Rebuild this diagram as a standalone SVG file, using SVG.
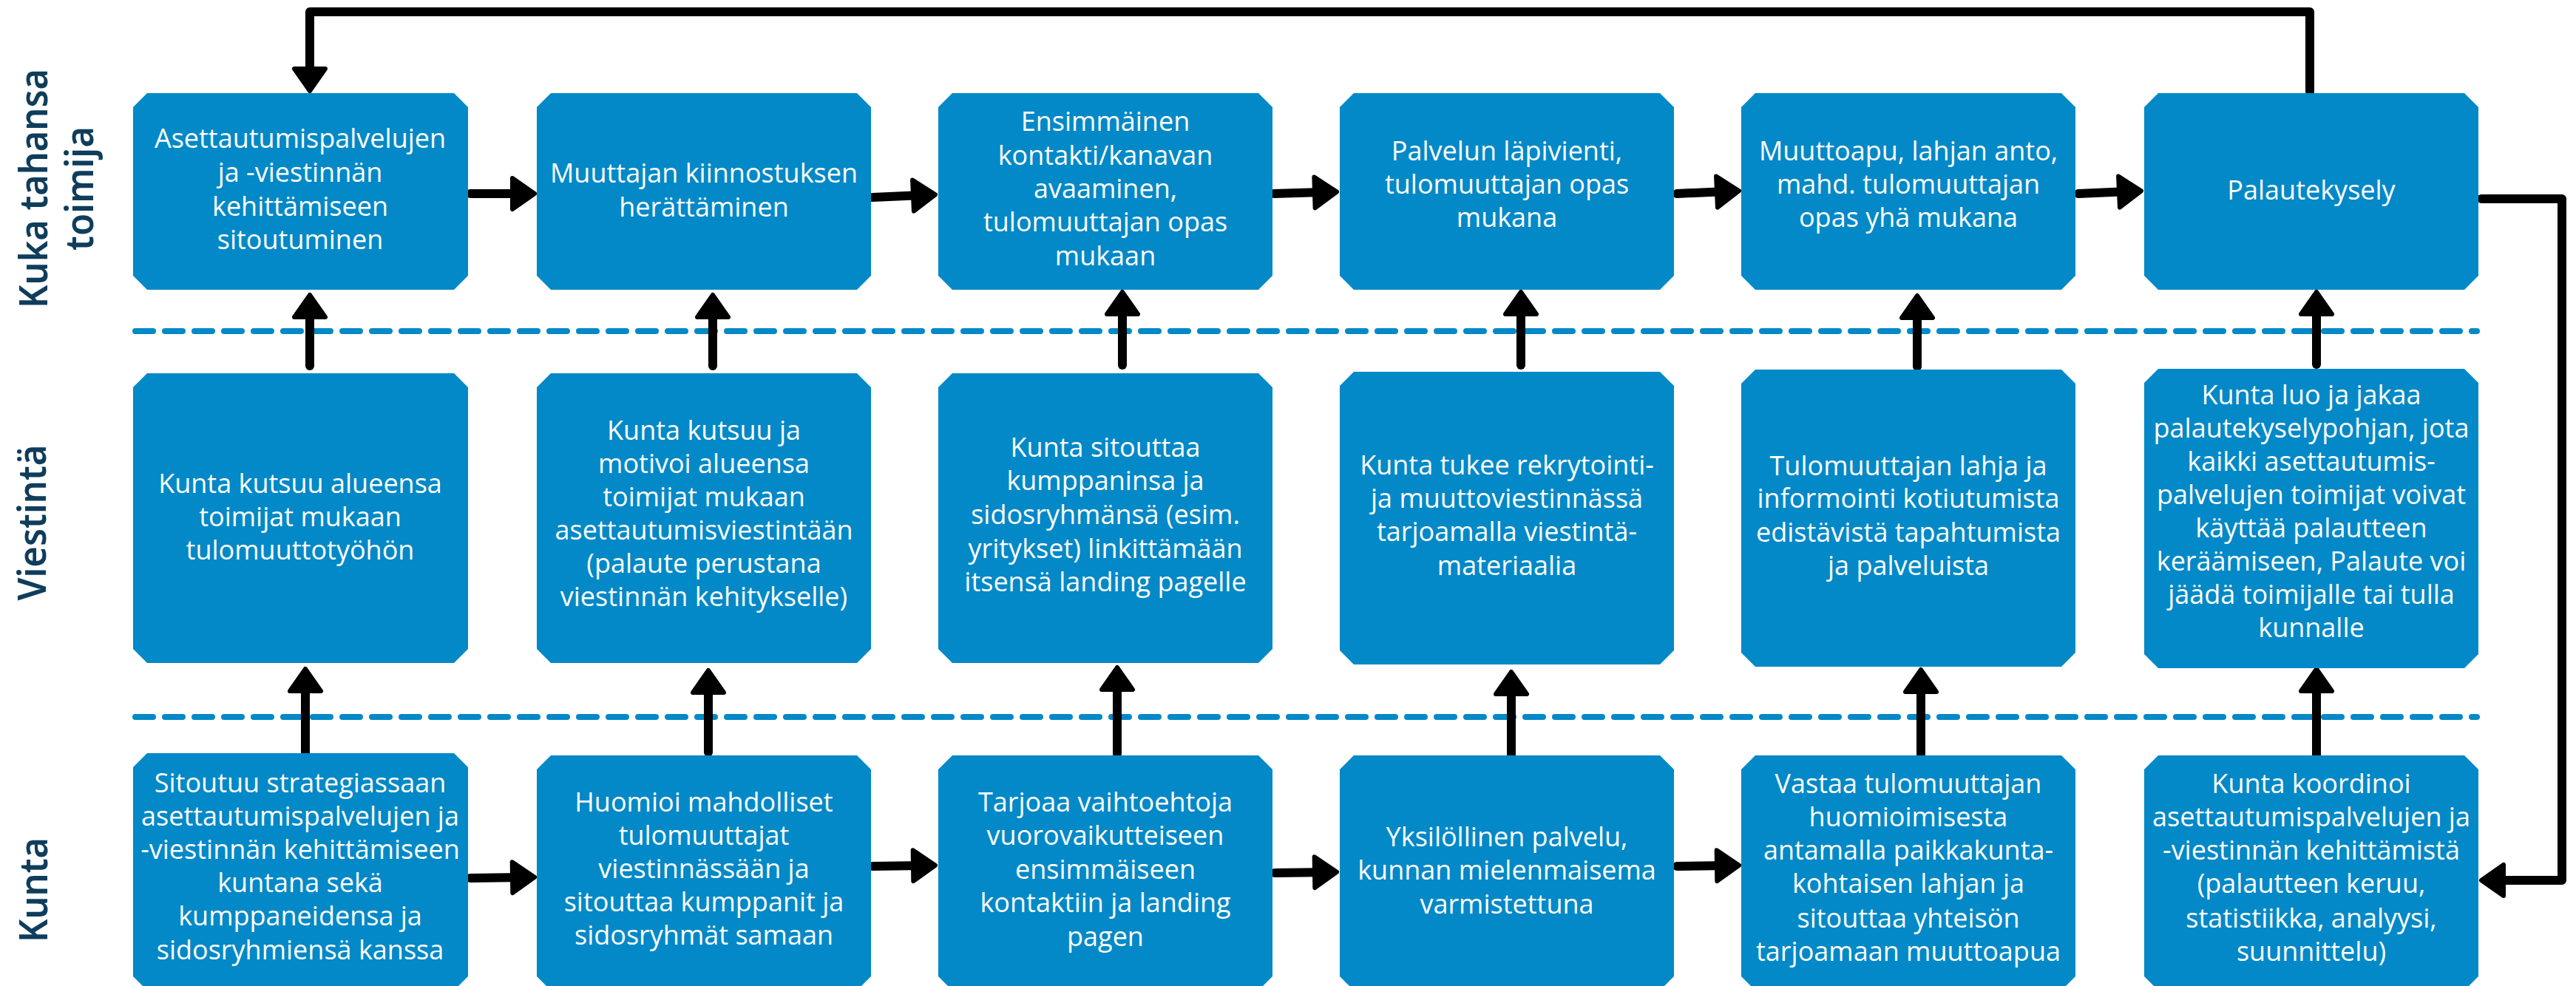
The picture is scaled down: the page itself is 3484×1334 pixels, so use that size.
<svg xmlns="http://www.w3.org/2000/svg" width="3484" height="1334" viewBox="0 0 3484 1334">
<style>
.box{fill:#0389c7}
.t{font-family:"Open Sans","Noto Sans",sans-serif;font-size:36px;font-weight:500;fill:#ffffff;text-anchor:middle}
.lbl{font-family:"Noto Sans","Open Sans",sans-serif;font-size:52px;font-weight:600;fill:#0f3d5b;text-anchor:middle}
.dash{fill:none;stroke:#0389c7;stroke-width:8;stroke-linecap:round;stroke-dasharray:24 16}
.c{fill:none;stroke:#000;stroke-width:12;stroke-linecap:round;stroke-linejoin:round}
.ca{fill:none;stroke:#000;stroke-width:12;stroke-linecap:round;stroke-linejoin:round;marker-end:url(#ah)}
</style>
<defs>
<marker id="ah" markerUnits="userSpaceOnUse" markerWidth="40" markerHeight="50" viewBox="0 0 40 50" refX="17" refY="25" orient="auto">
<path d="M4,4 L34,25 L4,46 Z" fill="#000" stroke="#000" stroke-width="6" stroke-linejoin="round"/>
</marker>
</defs>

<g id="lane-labels">
<text class="lbl" transform="translate(64,255) rotate(-90)" textLength="324" lengthAdjust="spacingAndGlyphs">Kuka tahansa</text>
<text class="lbl" transform="translate(126,255) rotate(-90)" textLength="168" lengthAdjust="spacingAndGlyphs">toimija</text>
<text class="lbl" transform="translate(62,707) rotate(-90)" textLength="211" lengthAdjust="spacingAndGlyphs">Viestintä</text>
<text class="lbl" transform="translate(64,1204) rotate(-90)" textLength="142" lengthAdjust="spacingAndGlyphs">Kunta</text>
</g>

<g id="lane-dividers">
<path class="dash" d="M183,448 L3350,448"/>
<path class="dash" d="M183,970 L3350,970"/>
</g>

<g id="connectors">
<path class="ca" d="M636,262 L706,262"/>
<path class="ca" d="M1180,267 L1248,264"/>
<path class="ca" d="M1723,262 L1791,260"/>
<path class="ca" d="M2268,262 L2335,259"/>
<path class="ca" d="M2811,262 L2879,259"/>
<path class="ca" d="M636,1188 L706,1187"/>
<path class="ca" d="M1180,1172 L1248,1171"/>
<path class="ca" d="M1724,1181 L1791,1180"/>
<path class="ca" d="M2268,1172 L2335,1171"/>
<path class="ca" d="M419,495 L419,416"/>
<path class="ca" d="M964,495 L964,416"/>
<path class="ca" d="M1518,494 L1518,412"/>
<path class="ca" d="M2057,494 L2057,412"/>
<path class="ca" d="M2593,496 L2593,417"/>
<path class="ca" d="M3133,493 L3133,412"/>
<path class="ca" d="M413,1019 L413,922"/>
<path class="ca" d="M958,1018 L958,924"/>
<path class="ca" d="M1511,1020 L1511,920"/>
<path class="ca" d="M2044,1022 L2044,926"/>
<path class="ca" d="M2598,1024 L2598,923"/>
<path class="ca" d="M3133,1022 L3133,922"/>
<path class="ca" d="M3124,124 L3124,16 L419,16 L419,106"/>
<path class="ca" d="M3356,269 L3465,269 L3465,1191 L3373,1191"/>
</g>

<g id="n-top-1"><polygon class="box" points="199,126 614,126 633,145 633,373 614,392 199,392 180,373 180,145"/>
<text class="t"><tspan x="406" y="200">Asettautumispalvelujen</tspan><tspan x="406" y="246">ja -viestinnän</tspan><tspan x="406" y="292">kehittämiseen</tspan><tspan x="406" y="337">sitoutuminen</tspan></text></g>
<g id="n-top-2"><polygon class="box" points="745,126 1159,126 1178,145 1178,373 1159,392 745,392 726,373 726,145"/>
<text class="t"><tspan x="952" y="247">Muuttajan kiinnostuksen</tspan><tspan x="952" y="293">herättäminen</tspan></text></g>
<g id="n-top-3"><polygon class="box" points="1288,126 1702,126 1721,145 1721,373 1702,392 1288,392 1269,373 1269,145"/>
<text class="t"><tspan x="1495" y="177">Ensimmäinen</tspan><tspan x="1495" y="223">kontakti/kanavan</tspan><tspan x="1495" y="268">avaaminen,</tspan><tspan x="1495" y="313">tulomuuttajan opas</tspan><tspan x="1495" y="359">mukaan</tspan></text></g>
<g id="n-top-4"><polygon class="box" points="1831,126 2245,126 2264,145 2264,373 2245,392 1831,392 1812,373 1812,145"/>
<text class="t"><tspan x="2038" y="217">Palvelun läpivienti,</tspan><tspan x="2038" y="262">tulomuuttajan opas</tspan><tspan x="2038" y="307">mukana</tspan></text></g>
<g id="n-top-5"><polygon class="box" points="2374,126 2788,126 2807,145 2807,373 2788,392 2374,392 2355,373 2355,145"/>
<text class="t"><tspan x="2581" y="217">Muuttoapu, lahjan anto,</tspan><tspan x="2581" y="262">mahd. tulomuuttajan</tspan><tspan x="2581" y="307">opas yhä mukana</tspan></text></g>
<g id="n-top-6"><polygon class="box" points="2919,126 3333,126 3352,145 3352,373 3333,392 2919,392 2900,373 2900,145"/>
<text class="t"><tspan x="3126" y="270">Palautekysely</tspan></text></g>

<g id="n-mid-1"><polygon class="box" points="199,505 614,505 633,524 633,878 614,897 199,897 180,878 180,524"/>
<text class="t"><tspan x="406" y="667">Kunta kutsuu alueensa</tspan><tspan x="406" y="712">toimijat mukaan</tspan><tspan x="406" y="757">tulomuuttotyöhön</tspan></text></g>
<g id="n-mid-2"><polygon class="box" points="745,505 1159,505 1178,524 1178,878 1159,897 745,897 726,878 726,524"/>
<text class="t"><tspan x="952" y="595">Kunta kutsuu ja</tspan><tspan x="952" y="640">motivoi alueensa</tspan><tspan x="952" y="685">toimijat mukaan</tspan><tspan x="952" y="730">asettautumisviestintään</tspan><tspan x="952" y="775">(palaute perustana</tspan><tspan x="952" y="820">viestinnän kehitykselle)</tspan></text></g>
<g id="n-mid-3"><polygon class="box" points="1288,505 1702,505 1721,524 1721,878 1702,897 1288,897 1269,878 1269,524"/>
<text class="t"><tspan x="1495" y="618">Kunta sitouttaa</tspan><tspan x="1495" y="663">kumppaninsa ja</tspan><tspan x="1495" y="709">sidosryhmänsä (esim.</tspan><tspan x="1495" y="755">yritykset) linkittämään</tspan><tspan x="1495" y="800">itsensä landing pagelle</tspan></text></g>
<g id="n-mid-4"><polygon class="box" points="1831,503 2245,503 2264,522 2264,880 2245,899 1831,899 1812,880 1812,522"/>
<text class="t"><tspan x="2038" y="642">Kunta tukee rekrytointi-</tspan><tspan x="2038" y="687">ja muuttoviestinnässä</tspan><tspan x="2038" y="732">tarjoamalla viestintä-</tspan><tspan x="2038" y="778">materiaalia</tspan></text></g>
<g id="n-mid-5"><polygon class="box" points="2374,500 2788,500 2807,519 2807,883 2788,902 2374,902 2355,883 2355,519"/>
<text class="t"><tspan x="2581" y="643">Tulomuuttajan lahja ja</tspan><tspan x="2581" y="687">informointi kotiutumista</tspan><tspan x="2581" y="733">edistävistä tapahtumista</tspan><tspan x="2581" y="778">ja palveluista</tspan></text></g>
<g id="n-mid-6"><polygon class="box" points="2919,499 3333,499 3352,518 3352,885 3333,904 2919,904 2900,885 2900,518"/>
<text class="t"><tspan x="3126" y="547">Kunta luo ja jakaa</tspan><tspan x="3126" y="592">palautekyselypohjan, jota</tspan><tspan x="3126" y="637">kaikki asettautumis-</tspan><tspan x="3126" y="682">palvelujen toimijat voivat</tspan><tspan x="3126" y="727">käyttää palautteen</tspan><tspan x="3126" y="772">keräämiseen, Palaute voi</tspan><tspan x="3126" y="817">jäädä toimijalle tai tulla</tspan><tspan x="3126" y="862">kunnalle</tspan></text></g>

<g id="n-bot-1"><polygon class="box" points="199,1019 614,1019 633,1038 633,1321 614,1340 199,1340 180,1321 180,1038"/>
<text class="t"><tspan x="406" y="1072">Sitoutuu strategiassaan</tspan><tspan x="406" y="1117">asettautumispalvelujen ja</tspan><tspan x="406" y="1162">-viestinnän kehittämiseen</tspan><tspan x="406" y="1207">kuntana sekä</tspan><tspan x="406" y="1252">kumppaneidensa ja</tspan><tspan x="406" y="1298">sidosryhmiensä kanssa</tspan></text></g>
<g id="n-bot-2"><polygon class="box" points="745,1022 1159,1022 1178,1041 1178,1321 1159,1340 745,1340 726,1321 726,1041"/>
<text class="t"><tspan x="952" y="1098">Huomioi mahdolliset</tspan><tspan x="952" y="1143">tulomuuttajat</tspan><tspan x="952" y="1188">viestinnässään ja</tspan><tspan x="952" y="1233">sitouttaa kumppanit ja</tspan><tspan x="952" y="1278">sidosryhmät samaan</tspan></text></g>
<g id="n-bot-3"><polygon class="box" points="1288,1022 1702,1022 1721,1041 1721,1321 1702,1340 1288,1340 1269,1321 1269,1041"/>
<text class="t"><tspan x="1495" y="1098">Tarjoaa vaihtoehtoja</tspan><tspan x="1495" y="1143">vuorovaikutteiseen</tspan><tspan x="1495" y="1189">ensimmäiseen</tspan><tspan x="1495" y="1234">kontaktiin ja landing</tspan><tspan x="1495" y="1280">pagen</tspan></text></g>
<g id="n-bot-4"><polygon class="box" points="1831,1022 2245,1022 2264,1041 2264,1321 2245,1340 1831,1340 1812,1321 1812,1041"/>
<text class="t"><tspan x="2038" y="1145">Yksilöllinen palvelu,</tspan><tspan x="2038" y="1190">kunnan mielenmaisema</tspan><tspan x="2038" y="1236">varmistettuna</tspan></text></g>
<g id="n-bot-5"><polygon class="box" points="2374,1022 2788,1022 2807,1041 2807,1321 2788,1340 2374,1340 2355,1321 2355,1041"/>
<text class="t"><tspan x="2581" y="1073">Vastaa tulomuuttajan</tspan><tspan x="2581" y="1118">huomioimisesta</tspan><tspan x="2581" y="1163">antamalla paikkakunta-</tspan><tspan x="2581" y="1208">kohtaisen lahjan ja</tspan><tspan x="2581" y="1255">sitouttaa yhteisön</tspan><tspan x="2581" y="1300">tarjoamaan muuttoapua</tspan></text></g>
<g id="n-bot-6"><polygon class="box" points="2919,1022 3333,1022 3352,1041 3352,1321 3333,1340 2919,1340 2900,1321 2900,1041"/>
<text class="t"><tspan x="3126" y="1073">Kunta koordinoi</tspan><tspan x="3126" y="1118">asettautumispalvelujen ja</tspan><tspan x="3126" y="1163">-viestinnän kehittämistä</tspan><tspan x="3126" y="1208">(palautteen keruu,</tspan><tspan x="3126" y="1255">statistiikka, analyysi,</tspan><tspan x="3126" y="1300">suunnittelu)</tspan></text></g>
</svg>
